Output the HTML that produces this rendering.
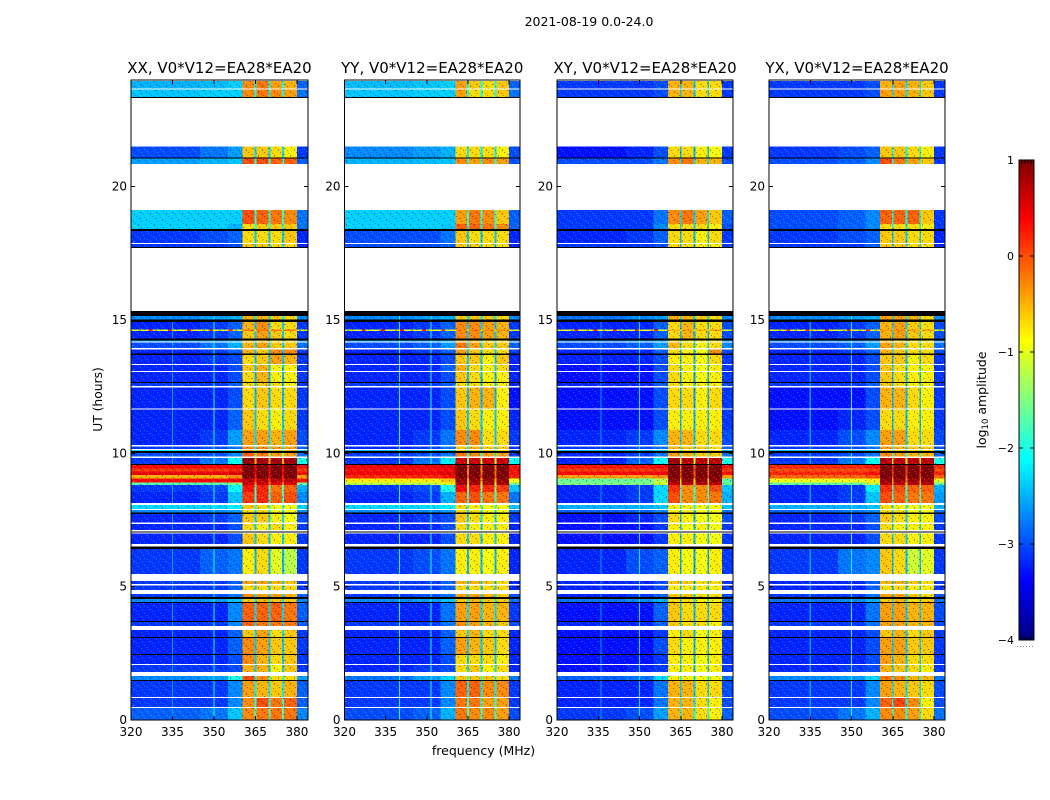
<!DOCTYPE html>
<html lang="en">
<head>
<meta charset="utf-8">
<title>2021-08-19 0.0-24.0</title>
<style>
html,body{margin:0;padding:0;background:#fff;}
svg{display:block;}
text{font-family:"DejaVu Sans","Liberation Sans",sans-serif;fill:#000;}
</style>
</head>
<body>
<svg id="chart" xmlns="http://www.w3.org/2000/svg" width="1050" height="800" viewBox="0 0 1050 800">
<defs>
<pattern id="speckle" width="16" height="16" patternUnits="userSpaceOnUse">
<rect x="1" y="0" width="1" height="1" fill="#00008c" fill-opacity=".4"/><rect x="5" y="1" width="2" height="1" fill="#8fe6ff" fill-opacity=".28"/><rect x="10" y="0" width="1" height="2" fill="#00008c" fill-opacity=".35"/><rect x="14" y="2" width="1" height="1" fill="#8fe6ff" fill-opacity=".3"/>
<rect x="3" y="3" width="1" height="1" fill="#00008c" fill-opacity=".45"/><rect x="8" y="3" width="1" height="1" fill="#8fe6ff" fill-opacity=".25"/><rect x="12" y="4" width="2" height="1" fill="#00008c" fill-opacity=".35"/><rect x="0" y="5" width="1" height="1" fill="#8fe6ff" fill-opacity=".3"/>
<rect x="6" y="5" width="1" height="2" fill="#00008c" fill-opacity=".4"/><rect x="10" y="6" width="1" height="1" fill="#8fe6ff" fill-opacity=".3"/><rect x="15" y="6" width="1" height="1" fill="#00008c" fill-opacity=".4"/><rect x="2" y="7" width="2" height="1" fill="#8fe6ff" fill-opacity=".22"/>
<rect x="8" y="8" width="1" height="1" fill="#00008c" fill-opacity=".45"/><rect x="13" y="8" width="1" height="1" fill="#8fe6ff" fill-opacity=".3"/><rect x="0" y="9" width="1" height="1" fill="#00008c" fill-opacity=".35"/><rect x="4" y="9" width="1" height="1" fill="#8fe6ff" fill-opacity=".3"/>
<rect x="11" y="10" width="2" height="1" fill="#00008c" fill-opacity=".35"/><rect x="7" y="11" width="1" height="1" fill="#8fe6ff" fill-opacity=".25"/><rect x="2" y="11" width="1" height="2" fill="#00008c" fill-opacity=".4"/><rect x="15" y="11" width="1" height="1" fill="#8fe6ff" fill-opacity=".28"/>
<rect x="5" y="13" width="1" height="1" fill="#00008c" fill-opacity=".4"/><rect x="9" y="13" width="2" height="1" fill="#8fe6ff" fill-opacity=".24"/><rect x="13" y="13" width="1" height="1" fill="#00008c" fill-opacity=".4"/><rect x="0" y="14" width="1" height="1" fill="#8fe6ff" fill-opacity=".3"/>
<rect x="7" y="15" width="1" height="1" fill="#00008c" fill-opacity=".4"/><rect x="12" y="15" width="1" height="1" fill="#8fe6ff" fill-opacity=".3"/><rect x="3" y="15" width="1" height="1" fill="#8fe6ff" fill-opacity=".25"/>
</pattern>
</defs>
<text x="589" y="26" text-anchor="middle" font-size="12.5">2021-08-19 0.0-24.0</text>
<text x="483.5" y="755" text-anchor="middle" font-size="12.5">frequency (MHz)</text>
<text transform="translate(102,399.5) rotate(-90)" text-anchor="middle" font-size="12.3">UT (hours)</text>
<text transform="translate(986,400) rotate(-90)" text-anchor="middle" font-size="12.5">log<tspan font-size="8.5" dy="2">10</tspan><tspan dy="-2"> amplitude</tspan></text>
</svg>
<script>
// time ranges (UT hours) of the recorded rows, bottom to top
const dataRowHours = [
[0,.45],[.49,.82],[.86,1.46],[1.5,1.65],[1.8,2.06],[2.1,2.44],[2.48,3.08],[3.11,3.38],[3.53,3.68],[3.71,4.39],
[4.43,4.54],[4.61,4.73],[4.88,5.04],[5.1,5.21],[5.48,6.41],[6.6,6.99],[7.13,7.35],[7.41,7.72],[7.78,7.88],[7.92,8.07],
[8.13,8.55],[8.55,8.81],[8.81,8.91],[8.91,9.06],[9.06,9.19],[9.19,9.32],[9.32,9.44],[9.44,9.56],[9.6,9.83],[9.88,10.02],
[10.08,10.13],[10.16,10.26],[10.31,10.88],[10.88,11.64],[11.68,12.47],[12.53,12.63],[12.68,13.05],[13.09,13.31],[13.35,13.69],[13.75,13.9],
[13.95,14.15],[14.19,14.23],[14.3,14.59],[14.59,14.65],[14.65,14.93],[15.02,15.15],[17.74,17.85],[17.88,18.34],[18.42,18.6],[18.6,19.13],
[20.85,21.06],[21.1,21.51],[23.37,23.65],[23.68,23.96]];
// time ranges flagged as zero amplitude (black)
const flaggedHours = [[1.46,1.5],[2.44,2.48],[3.08,3.11],[3.68,3.71],[4.39,4.43],[4.54,4.61],[6.41,6.5],[7.03,7.07],[7.72,7.78],[9.56,9.6],[10.02,10.08],[12.63,12.68],[13.69,13.75],[14.23,14.3],[14.93,15.02],[15.15,15.34],[17.7,17.74],[18.34,18.42],[21.06,21.1],[23.32,23.37]];
// frequency zones in MHz
const zoneEdges = [320,345,355,360.4,365,370,375,380,384];
const notchFreqs = [365,370,375];
const spikeFreqs = [327,334,341,349,356];
const spikeLevel = 0.25;
const spikeRowIndex = 43;
// log10 amplitude per row: 320-345, 345-355, 355-360, band1, band2, band3, band4, notches, 380-384
const xxValues = [
[-2.9,-2.8,-2.4,-.3,-.2,-.2,-.2,-1.8,-2.7],[-3.1,-3.1,-2.7,-.3,0,-.2,-.1,-2,-2.9],[-3.1,-3.1,-2.7,-.4,-.5,-.6,-.5,-2.2,-2.9],[-2.7,-2.6,-2,0,-.3,-.7,-.7,-2,-2.6],[-3.1,-3.1,-3,-.5,-.5,-.8,-.6,-2.4,-3.1],
[-3.2,-3.2,-3,-.3,-.5,-.7,-.6,-2.4,-3.1],[-3.2,-3.2,-2.9,-.3,-.4,-.6,-.6,-2.4,-3.1],[-3.2,-3.2,-2.9,-.6,-.4,-.7,-.6,-2.3,-3.1],[-3.1,-3.1,-2.7,-.1,-.2,-.2,-.2,-2.3,-2.9],[-3.2,-3.2,-2.7,-.1,-.1,-.1,-.2,-2.3,-2.9],
[-2.7,-2.6,-2.4,-.6,-.5,-.6,-.6,-2.2,-2.7],[-3.1,-3,-2.8,-.3,-.4,-.4,-.5,-2.3,-2.9],[-3.1,-3.1,-2.9,-.7,-.7,-.7,-.7,-2.4,-3.1],[-3.1,-3.1,-2.9,-.4,-.4,-.5,-.6,-2.4,-3.1],[-3.1,-2.9,-2.8,-.8,-.7,-1,-1.2,-2.5,-3.1],
[-3.2,-3.2,-3,-.6,-.7,-.8,-.8,-2.4,-3.1],[-3.2,-3.2,-3,-.7,-.8,-.7,-.8,-2.4,-3.1],[-3.2,-3.1,-2.9,-.6,-.6,-.8,-.9,-2.3,-3],[-2.7,-2.7,-2.6,-.7,-.7,-.9,-.9,-2.3,-2.7],[-2.3,-2.3,-2.2,-.6,-.7,-.9,-.9,-2,-2.3],
[-3.2,-3.1,-2.4,.1,.2,-.1,0,-1.9,-2.7],[-3.1,-3,-2.1,.3,.2,-.2,-.1,-1.7,-2.5],[-1.7,-1.7,-1.5,.6,.6,.5,.5,-.3,-1.6],[.35,.35,.4,.7,.7,.7,.7,.1,.3],[-.5,-.5,-.3,1,1,1,1,.3,-.4],
[.45,.45,.5,1,1,1,1,.4,.3],[.1,.1,.2,1,1,1,1,.4,.1],[.35,.35,.4,1,1,1,1,.4,.3],[-3.1,-2.8,-2.1,.9,.8,.8,.8,-.5,-2],[-3,-3,-2.7,-.1,-.2,-.4,-.4,-1.5,-2.8],
[-2.3,-2.3,-2.2,-.4,-.4,-.5,-.5,-2,-2.3],[-3.1,-3,-2.8,-.3,-.3,-.4,-.4,-2.2,-2.9],[-3.2,-3.1,-2.6,-.4,-.4,-.5,-.4,-2.3,-3],[-3.2,-3.2,-2.9,-.6,-.7,-.8,-.7,-2.4,-3.1],[-3.2,-3.2,-3,-.7,-.6,-.7,-.7,-2.5,-3.1],
[-3.1,-3.1,-2.9,-.7,-.6,-.7,-.8,-2.4,-3.1],[-3.2,-3.2,-3,-.7,-.5,-.8,-.8,-2.5,-3.1],[-3.2,-3.2,-3,-.6,-.5,-.8,-.8,-2.4,-3.1],[-3.2,-3.1,-3,-.7,-.6,-.4,-.5,-2.4,-3.1],[-3.2,-3.1,-2.9,-.5,-.6,-.3,-.3,-2.4,-3.1],
[-3,-2.8,-2.5,-.5,-.4,-.6,-.6,-2.3,-2.8],[-2.6,-2.6,-2.5,-.6,-.6,-.7,-.7,-2.3,-2.6],[-3.2,-3.1,-2.9,-.6,-.4,-.6,-.7,-2.4,-3.1],[-1,-1,-1,-.2,-.2,-.2,-.2,-1,-1],[-3.2,-3.1,-2.9,-.5,-.3,-.7,-.7,-2.4,-3.1],
[-2.7,-2.6,-2.5,-.5,-.5,-.6,-.7,-2.2,-2.7],[-3.1,-3.1,-3,-.6,-.6,-.7,-.7,-2.4,-3.2],[-3.1,-3,-2.9,-.7,-.7,-.7,-.6,-2.4,-3.2],[-2.35,-2.35,-2.5,-.7,-.6,-.6,-.6,-2,-2.8],[-2.35,-2.35,-2.35,0,-.1,-.2,-.3,-1.9,-2.8],
[-2.6,-2.5,-2.4,0,0,-.1,-.1,-1.9,-2.9],[-3,-2.8,-2.6,-.6,-.6,-.7,-.8,-2.3,-3.1],[-2.4,-2.35,-2.35,-.3,-.2,-.3,-.4,-2.1,-2.8],[-2.5,-2.45,-2.35,-.3,-.2,-.4,-.5,-2.1,-2.9]];
const yyValues = [
[-3,-2.9,-2.5,-.2,-.3,-.3,-.4,-1.9,-3],[-3.1,-3.1,-2.7,-.2,-.2,-.4,-.4,-2,-3.1],[-3.1,-3.1,-2.7,-.1,-.1,-.3,-.3,-2.2,-3.1],[-2.8,-2.6,-2.3,-.6,-.6,-.6,-.7,-2,-2.8],[-3.2,-3.1,-3,-.7,-.6,-.8,-.7,-2.3,-3.2],
[-3.2,-3.2,-3,-.7,-.7,-.7,-.8,-2.4,-3.2],[-3.2,-3.2,-2.9,-.4,-.5,-.6,-.7,-2.4,-3.2],[-3.2,-3.2,-2.9,-.6,-.5,-.7,-.7,-2.3,-3.2],[-3.1,-3.1,-2.8,-.3,-.4,-.5,-.6,-2.3,-3],[-3.2,-3.2,-2.8,-.4,-.4,-.5,-.5,-2.3,-3.1],
[-2.7,-2.6,-2.4,-.6,-.5,-.6,-.6,-2.2,-2.8],[-3.1,-3,-2.8,-.4,-.4,-.5,-.6,-2.3,-3],[-3.1,-3.1,-2.9,-.7,-.7,-.7,-.7,-2.4,-3.2],[-3.1,-3.1,-2.9,-.5,-.5,-.6,-.7,-2.4,-3.2],[-3.1,-3,-2.8,-.8,-.8,-.9,-.8,-2.5,-3.2],
[-3.2,-3.2,-3,-.7,-.7,-.8,-.8,-2.4,-3.2],[-3.2,-3.2,-3,-.7,-.8,-.8,-.8,-2.4,-3.2],[-3.2,-3.1,-3,-.6,-.7,-.8,-.8,-2.3,-3.1],[-2.7,-2.7,-2.6,-.7,-.7,-.9,-.9,-2.3,-2.8],[-2.3,-2.3,-2.2,-.7,-.8,-.9,-.9,-2,-2.4],
[-3.2,-3.1,-2.5,-.1,0,-.2,-.2,-1.9,-2.8],[-3.1,-3,-2,.35,.2,.2,.1,-1.5,-2.4],[-1.2,-1.2,-1,.8,.8,.8,.8,-.8,-1.5],[-.8,-.8,-.6,.85,.85,.85,.85,-.5,-.9],[.2,.2,.3,1,1,1,1,0,.2],
[.4,.4,.5,1,1,1,1,-.2,.3],[.3,.3,.35,1,1,1,1,-.2,.3],[.45,.45,.5,1,1,1,1,-.2,.3],[-3.1,-2.8,-2.2,.6,.6,.6,.6,-1.2,-2.1],[-3.1,-3,-2.8,-.2,-.3,-.4,-.4,-2,-3.1],
[-2.5,-2.4,-2.4,-.6,-.6,-.6,-.7,-2.2,-2.9],[-3.2,-3.1,-2.8,-.6,-.5,-.6,-.6,-2.3,-3.1],[-3.2,-3.1,-2.8,-.3,-.3,-.7,-.7,-2.4,-3.1],[-3.2,-3.2,-3,-.6,-.7,-.8,-.8,-2.4,-3.2],[-3.2,-3.2,-3,-.6,-.5,-.5,-.8,-2.5,-3.3],
[-3.1,-3.1,-2.9,-.7,-.7,-.8,-.8,-2.4,-3.2],[-3.2,-3.2,-3,-.6,-.7,-.8,-.8,-2.5,-3.2],[-3.2,-3.2,-2.9,-.5,-.7,-.8,-.7,-2.4,-3.2],[-3.2,-3.2,-3,-.6,-.6,-.8,-.6,-2.4,-3.2],[-3.2,-3.1,-2.9,-.4,-.6,-.7,-.7,-2.4,-3.1],
[-3,-2.9,-2.6,-.2,-.4,-.6,-.6,-2.3,-2.9],[-2.6,-2.6,-2.5,-.6,-.6,-.7,-.7,-2.3,-2.7],[-3.2,-3.1,-2.9,-.3,-.3,-.4,-.5,-2.4,-3.1],[-1,-1,-1,-.3,-.2,-.3,-.3,-1,-1],[-3.2,-3.1,-2.9,-.3,-.3,-.4,-.5,-2.4,-3.1],
[-2.7,-2.6,-2.5,-.6,-.6,-.6,-.7,-2.2,-2.7],[-3,-3,-2.9,-.6,-.6,-.7,-.7,-2.4,-3.2],[-3,-3,-2.8,-.6,-.7,-.7,-.7,-2.4,-3.2],[-2.35,-2.35,-2.4,-.1,-.1,-.2,-.3,-2,-2.9],[-2.35,-2.35,-2.35,-.4,-.2,-.3,-.6,-1.9,-2.9],
[-2.5,-2.45,-2.4,-.3,-.4,-.3,-.4,-2,-3],[-2.7,-2.6,-2.5,-.7,-.7,-.7,-.8,-2.2,-3],[-2.4,-2.35,-2.35,-.4,-.7,-.7,-.6,-2.1,-2.8],[-2.45,-2.4,-2.35,-.4,-.6,-.7,-.6,-2.1,-2.9]];
const xyValues = [
[-3.1,-3,-2.6,-.5,-.5,-.7,-.8,-2.1,-2.9],[-3.2,-3.2,-2.8,-.5,-.5,-.7,-.8,-2.3,-3],[-3.2,-3.2,-2.8,-.5,-.5,-.7,-.7,-2.4,-3],[-2.9,-2.8,-2.3,-.8,-.8,-.9,-.9,-2.2,-2.8],[-3.3,-3.2,-3.1,-.8,-.8,-.9,-.8,-2.5,-3.1],
[-3.3,-3.3,-3.1,-.8,-.8,-.9,-.8,-2.5,-3.1],[-3.3,-3.3,-3,-.7,-.8,-.8,-.8,-2.5,-3.1],[-3.3,-3.3,-3.1,-.8,-.7,-.9,-.8,-2.5,-3.1],[-3.2,-3.2,-2.9,-.6,-.7,-.7,-.8,-2.4,-3],[-3.3,-3.3,-2.9,-.6,-.7,-.7,-.7,-2.5,-3.1],
[-2.8,-2.7,-2.5,-.7,-.7,-.8,-.8,-2.3,-2.8],[-3.2,-3.1,-2.9,-.6,-.6,-.7,-.7,-2.4,-3],[-3.2,-3.2,-3,-.8,-.8,-.8,-.8,-2.5,-3.1],[-3.2,-3.2,-3,-.6,-.6,-.7,-.7,-2.5,-3.1],[-3.2,-3,-2.9,-.8,-.9,-.9,-.8,-2.6,-3.1],
[-3.3,-3.3,-3.1,-.8,-.8,-.9,-.9,-2.5,-3.1],[-3.3,-3.3,-3.1,-.8,-.9,-.8,-.9,-2.5,-3.1],[-3.3,-3.2,-3,-.7,-.8,-.9,-.9,-2.5,-3],[-2.9,-2.9,-2.7,-.8,-.8,-.9,-.9,-2.4,-2.8],[-2.5,-2.5,-2.4,-.8,-.8,-.9,-.9,-2.2,-2.4],
[-3.2,-3.1,-2.3,0,-.3,-.3,-.2,-1.9,-2.5],[-3.2,-3.1,-2.3,.15,-.3,-.3,0,-1.8,-2.4],[-1.5,-1.5,-1.1,.7,.7,.7,.7,-.7,-1.6],[-1.6,-1.6,-1.2,.9,.9,.9,.9,-.7,-1.7],[-.4,-.4,-.3,1,1,1,1,.1,-.4],
[.35,.35,.4,1,1,1,1,-.1,.3],[.1,.1,.15,1,1,1,1,-.1,.1],[.3,.3,.35,1,1,1,1,-.1,.3],[-3.2,-2.9,-2.1,.8,.7,.7,.7,-.9,-2],[-3.2,-3.1,-2.8,-.4,-.5,-.6,-.6,-2,-2.8],
[-2.5,-2.5,-2.4,-.7,-.7,-.7,-.7,-2.2,-2.5],[-3.1,-3,-2.8,-.5,-.6,-.6,-.7,-2.3,-2.9],[-3.2,-3.1,-2.7,-.5,-.5,-.7,-.7,-2.4,-3],[-3.3,-3.3,-3,-.8,-.8,-.8,-.8,-2.5,-3.1],[-3.3,-3.3,-3,-.7,-.7,-.8,-.7,-2.6,-3.1],
[-3.2,-3.2,-2.9,-.7,-.8,-.8,-.8,-2.5,-3],[-3.3,-3.3,-3,-.7,-.8,-.9,-.8,-2.6,-3.1],[-3.3,-3.3,-3,-.7,-.8,-.9,-.8,-2.5,-3.1],[-3.2,-3.2,-3,-.8,-.8,-.9,-.7,-2.5,-3.1],[-3.2,-3.2,-2.9,-.7,-.8,-.9,-.3,-2.5,-3],
[-3,-2.9,-2.6,-.5,-.7,-.8,-.7,-2.4,-2.7],[-2.8,-2.7,-2.6,-.7,-.7,-.8,-.8,-2.4,-2.7],[-3.2,-3.2,-2.9,-.7,-.5,-.7,-.7,-2.5,-3],[-1,-1,-1,-.5,-.4,-.5,-.4,-1,-1],[-3.2,-3.2,-2.9,-.7,-.5,-.7,-.7,-2.5,-3],
[-2.8,-2.7,-2.6,-.5,-.5,-.6,-.7,-2.3,-2.7],[-3.1,-3.1,-3,-.7,-.7,-.8,-.8,-2.5,-3.1],[-3.2,-3.1,-2.9,-.7,-.7,-.8,-.7,-2.5,-3.1],[-3.1,-3.1,-2.7,-.7,-.7,-.7,-.8,-2.4,-3],[-3.1,-3.1,-2.8,-.3,-.2,-.4,-.6,-2.3,-2.9],
[-3,-3,-2.8,-.3,-.2,-.5,-.5,-2.3,-3],[-3.3,-3.2,-3,-.7,-.7,-.8,-.9,-2.5,-3.1],[-3.1,-3.1,-3,-.5,-.5,-.7,-.7,-2.4,-3.1],[-3.1,-3.1,-3,-.5,-.5,-.7,-.7,-2.4,-3.1]];
const yxValues = [
[-3,-2.8,-2.5,-.3,-.3,-.4,-.7,-2,-2.8],[-3.1,-3.1,-2.7,-.1,.05,-.3,-.8,-2.2,-3],[-3.1,-3.1,-2.7,-.4,-.5,-.6,-.7,-2.3,-3],[-2.7,-2.6,-2.3,-.2,-.3,-.5,-.5,-2.1,-2.8],[-3.2,-3.1,-3,-.5,-.6,-.7,-.8,-2.4,-3.1],
[-3.2,-3.2,-3,-.4,-.5,-.7,-.7,-2.4,-3.1],[-3.2,-3.2,-3,-.4,-.4,-.6,-.6,-2.4,-3.1],[-3.2,-3.2,-3,-.6,-.5,-.7,-.6,-2.4,-3.1],[-3.1,-3.1,-2.8,-.4,-.4,-.5,-.5,-2.4,-3],[-3.2,-3.2,-2.8,-.4,-.4,-.5,-.5,-2.4,-3],
[-2.8,-2.7,-2.5,-.6,-.5,-.7,-.6,-2.3,-2.8],[-3.1,-3.1,-2.8,-.4,-.4,-.6,-.7,-2.4,-3],[-3.2,-3.2,-2.9,-.7,-.7,-.8,-.8,-2.5,-3.1],[-3.2,-3.2,-2.9,-.5,-.5,-.6,-.7,-2.5,-3.1],[-3.1,-2.8,-2.7,-.6,-.7,-1.1,-1,-2.5,-3.1],
[-3.2,-3.2,-3,-.7,-.7,-.8,-.8,-2.4,-3.1],[-3.2,-3.2,-3,-.7,-.8,-.8,-.8,-2.4,-3.1],[-3.2,-3.1,-2.9,-.6,-.7,-.8,-.8,-2.4,-3],[-2.9,-2.8,-2.7,-.7,-.7,-.9,-.9,-2.4,-2.8],[-2.5,-2.5,-2.4,-.7,-.8,-.9,-.9,-2.2,-2.5],
[-3.2,-3.1,-2.4,0,-.1,-.2,-.2,-1.9,-2.6],[-3.2,-3.1,-2.2,.15,0,-.1,-.1,-1.8,-2.5],[-1.6,-1.6,-1.2,.7,.7,.7,.7,-.6,-1.6],[-.95,-.95,-.8,.85,.85,.85,.85,-.4,-1],[-.1,-.1,0,1,1,1,1,0,-.1],
[.2,.2,.3,1,1,1,1,.1,.2],[0,0,.05,1,1,1,1,.1,0],[.2,.2,.3,1,1,1,1,.1,.2],[-3.1,-2.8,-2.1,.7,.7,.7,.7,-.8,-2],[-3.1,-3,-2.8,-.3,-.4,-.5,-.5,-2,-2.9],
[-2.5,-2.5,-2.4,-.6,-.6,-.7,-.7,-2.2,-2.5],[-3.1,-3,-2.8,-.4,-.5,-.6,-.6,-2.3,-3],[-3.2,-3,-2.7,-.4,-.4,-.7,-.7,-2.4,-3],[-3.3,-3.2,-3,-.7,-.7,-.8,-.8,-2.5,-3.1],[-3.3,-3.3,-3,-.5,-.5,-.7,-.8,-2.5,-3.1],
[-3.1,-3.1,-2.9,-.6,-.7,-.8,-.8,-2.4,-3.1],[-3.2,-3.2,-3,-.6,-.7,-.8,-.8,-2.5,-3.1],[-3.2,-3.2,-3,-.6,-.7,-.8,-.8,-2.4,-3.1],[-3.2,-3.2,-3,-.6,-.6,-.8,-.7,-2.5,-3.1],[-3.2,-3.1,-2.9,-.5,-.6,-.7,-.7,-2.4,-3],
[-3,-2.9,-2.6,-.4,-.5,-.7,-.7,-2.3,-2.8],[-2.7,-2.7,-2.6,-.6,-.7,-.7,-.8,-2.3,-2.7],[-3.2,-3.1,-2.9,-.5,-.4,-.6,-.7,-2.4,-3],[-1,-1,-1,-.4,-.3,-.4,-.4,-1,-1],[-3.2,-3.1,-2.9,-.5,-.4,-.6,-.7,-2.4,-3],
[-2.7,-2.6,-2.5,-.4,-.4,-.5,-.7,-2.3,-2.7],[-3.1,-3.1,-2.9,-.6,-.6,-.7,-.7,-2.4,-3.2],[-3.1,-3,-2.9,-.6,-.6,-.7,-.7,-2.4,-3.2],[-3,-2.9,-2.7,-.7,-.7,-.7,-.8,-2.2,-3.1],[-3,-2.9,-2.7,-.1,-.1,-.1,-.6,-2.1,-3.1],
[-3,-2.9,-2.7,0,-.2,-.4,-.6,-2.1,-3.1],[-3.1,-3,-2.9,-.6,-.6,-.7,-.8,-2.2,-3.1],[-3.1,-3.1,-3,-.4,-.4,-.5,-.6,-2.3,-3.1],[-3.1,-3.1,-3,-.5,-.4,-.5,-.6,-2.3,-3.1]];
const panelTitles = ["XX, V0*V12=EA28*EA20","YY, V0*V12=EA28*EA20","XY, V0*V12=EA28*EA20","YX, V0*V12=EA28*EA20"];
const panelValues = [xxValues,yyValues,xyValues,yxValues];
// narrow vertical interference lines: MHz and log10 amplitude per panel
const rfiFreqs = [[335,350],[340,351.5],[336,350],[335,350]];
const rfiLevels = [[-2.6,-2],[-2,-2],[-2.6,-2.2],[-2.6,-2.1]];
const xTickValues = [320,335,350,365,380];
const yTickValues = [0,5,10,15,20];
const colorbarTicks = [1,0,-1,-2,-3,-4];
const colorbarLabels = ["1","0","\u22121","\u22122","\u22123","\u22124"];

const svgNS = "http://www.w3.org/2000/svg";
const chart = document.getElementById("chart");
const panelBoxes = [{l:131,r:308},{l:344.5,r:520},{l:557,r:733},{l:769,r:945}];
const plotTop = 80, plotBottom = 720, hourMax = 24, freqMin = 320, freqMax = 384;
const levelMin = -4, levelMax = 1;

function yScale(h){ return plotBottom - (h/hourMax)*(plotBottom-plotTop); }
function xScale(box,f){ return box.l + (f-freqMin)/(freqMax-freqMin)*(box.r-box.l); }
function jetChannel(t,c){ return Math.max(0,Math.min(1,1.5-Math.abs(4*t-c))); }
function jet(v){
  const t = Math.max(0,Math.min(1,(v-levelMin)/(levelMax-levelMin)));
  return "rgb("+Math.round(255*jetChannel(t,3))+","+Math.round(255*jetChannel(t,2))+","+Math.round(255*jetChannel(t,1))+")";
}
function make(tag,parent,props){
  const el = document.createElementNS(svgNS,tag);
  for(const k in props){ el.setAttribute(k,props[k]); }
  parent.appendChild(el);
  return el;
}
function cell(parent,x0,x1,y0,y1,fill){
  return make("rect",parent,{x:x0.toFixed(2),y:y1.toFixed(2),width:(x1-x0).toFixed(2),height:(y0-y1).toFixed(2),fill:fill,"shape-rendering":"crispEdges"});
}

panelTitles.forEach(function(title,p){
  const box = panelBoxes[p];
  const values = panelValues[p];
  const g = make("g",chart,{});
  
  

  dataRowHours.forEach(function(row,i){
    const y0 = yScale(row[0]), y1 = yScale(row[1]);
    const v = values[i];
    const zoneColumns = [0,1,2,3,4,5,6,8];
    zoneColumns.forEach(function(col,z){
      const c = cell(g,xScale(box,zoneEdges[z]),xScale(box,zoneEdges[z+1]),y0,y1,jet(v[col]));
      
      
    });
    notchFreqs.forEach(function(f){
      const n = cell(g,xScale(box,f-0.35),xScale(box,f+0.35),y0,y1,jet(v[7]));
      
      
    });
    const tex = cell(g,box.l,box.r,y0,y1,"url(#speckle)");
    
    
    rfiFreqs[p].forEach(function(f,k){
      if(rfiLevels[p][k] > v[0] && row[1] < 15.2){
        const r = cell(g,xScale(box,f-0.2),xScale(box,f+0.2),y0,y1,jet(rfiLevels[p][k]));
        
        
      }
    });
    if(i === spikeRowIndex){
      spikeFreqs.forEach(function(f){
        const s = cell(g,xScale(box,f-0.7),xScale(box,f+0.7),y0,y1,jet(spikeLevel));
        
        
      });
    }
  });

  flaggedHours.forEach(function(row){
    const b = cell(g,box.l,box.r,yScale(row[0]),yScale(row[1]),"#000");
    
    
  });

  const frame = make("rect",g,{x:box.l,y:plotTop,width:box.r-box.l,height:plotBottom-plotTop,fill:"none",stroke:"#000","stroke-width":1,"shape-rendering":"crispEdges"});
  
  

  xTickValues.forEach(function(f){
    const x = xScale(box,f);
    const tb = make("line",g,{x1:x,x2:x,y1:plotBottom,y2:plotBottom-4,stroke:"#000","shape-rendering":"crispEdges"});
    
    
    const tt = make("line",g,{x1:x,x2:x,y1:plotTop,y2:plotTop+4,stroke:"#000","shape-rendering":"crispEdges"});
    
    
    const lab = make("text",g,{x:x,y:736,"text-anchor":"middle","font-size":12});
    
    
    lab.textContent = f;
  });
  yTickValues.forEach(function(h){
    const y = yScale(h);
    const tl = make("line",g,{x1:box.l,x2:box.l+4,y1:y,y2:y,stroke:"#000","shape-rendering":"crispEdges"});
    
    
    const tr = make("line",g,{x1:box.r,x2:box.r-4,y1:y,y2:y,stroke:"#000","shape-rendering":"crispEdges"});
    
    
    const lab = make("text",g,{x:box.l-4,y:y+4,"text-anchor":"end","font-size":12});
    
    
    lab.textContent = h;
  });
  const ttl = make("text",g,{x:(box.l+box.r)/2,y:73,"text-anchor":"middle","font-size":15});
  
  
  ttl.textContent = title;
});

// colour bar
const cbar = {l:1019,r:1034,t:160,b:640};
const cbarGroup = make("g",chart,{});


function cbarY(v){ return cbar.b - (v-levelMin)/(levelMax-levelMin)*(cbar.b-cbar.t); }
const cbarSteps = 240;
for(let i=0;i<cbarSteps;i++){
  const lo = levelMin + i/cbarSteps*(levelMax-levelMin);
  const hi = levelMin + (i+1)/cbarSteps*(levelMax-levelMin);
  const s = cell(cbarGroup,cbar.l,cbar.r,cbarY(lo),cbarY(hi),jet((lo+hi)/2));
  
  
}
const cbarFrame = make("rect",cbarGroup,{x:cbar.l,y:cbar.t,width:cbar.r-cbar.l,height:cbar.b-cbar.t,fill:"none",stroke:"#000","shape-rendering":"crispEdges"});


colorbarTicks.forEach(function(v,i){
  const y = cbarY(v);
  const a = make("line",cbarGroup,{x1:cbar.l,x2:cbar.l+4,y1:y,y2:y,stroke:"#000","shape-rendering":"crispEdges"});
  
  
  const b = make("line",cbarGroup,{x1:cbar.r,x2:cbar.r-4,y1:y,y2:y,stroke:"#000","shape-rendering":"crispEdges"});
  
  
  const lab = make("text",cbarGroup,{x:cbar.l-5,y:y+4,"text-anchor":"end","font-size":11});
  
  
  lab.textContent = colorbarLabels[i];
});
for(let x=cbar.l+3;x<cbar.r;x+=3){
  const t1 = make("line",cbarGroup,{x1:x,x2:x,y1:cbar.t,y2:cbar.t+4,stroke:"#000","shape-rendering":"crispEdges"});
  
  
  const t2 = make("line",cbarGroup,{x1:x,x2:x,y1:cbar.b,y2:cbar.b-4,stroke:"#000","shape-rendering":"crispEdges"});
  
  
}
const dots = make("line",cbarGroup,{x1:1017,x2:1035,y1:646.5,y2:646.5,stroke:"#888","stroke-dasharray":"1 2","shape-rendering":"crispEdges"});


</script>
</body>
</html>
